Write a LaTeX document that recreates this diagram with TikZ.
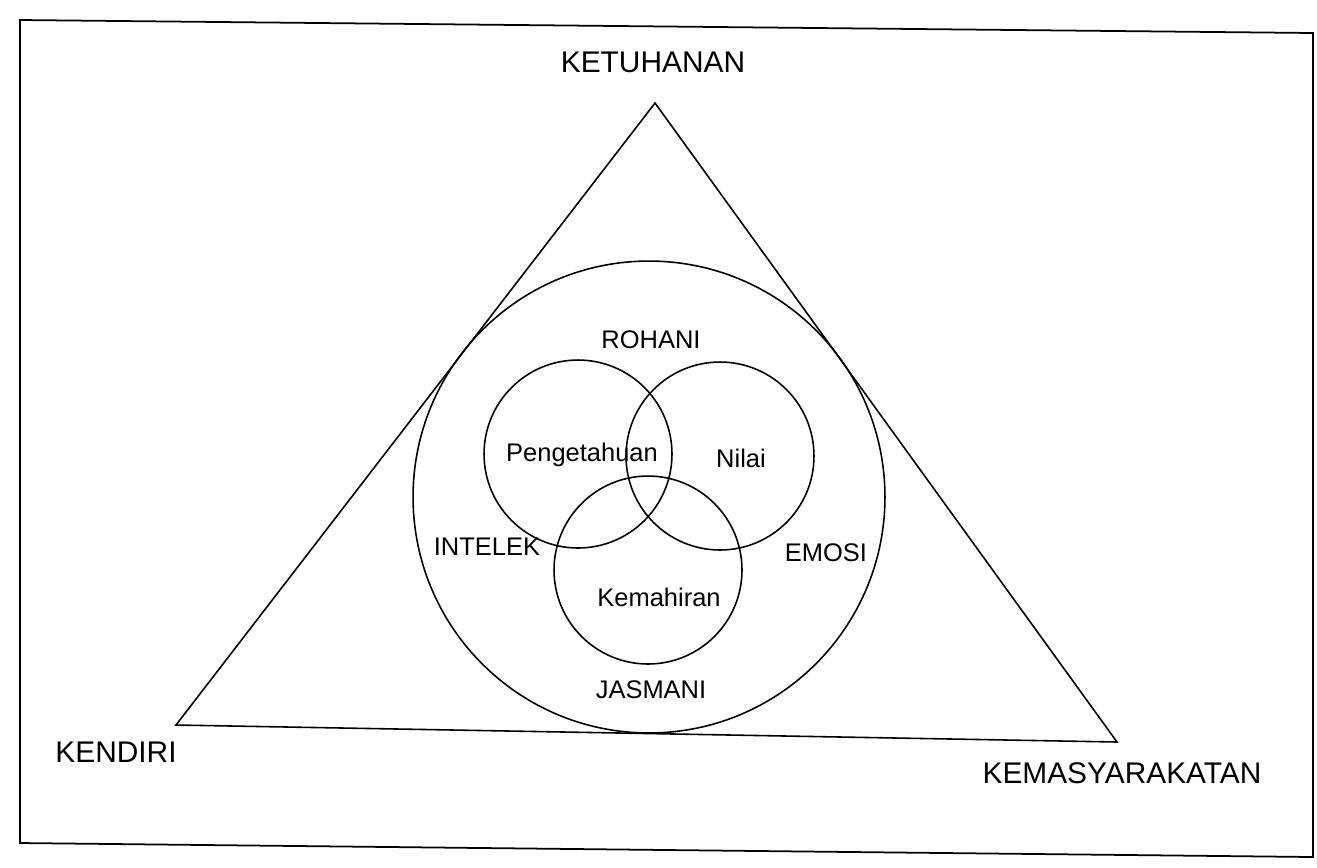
\documentclass[tikz,border=0pt]{standalone}
\usepackage{fontspec}
\setmainfont{Liberation Sans}
\usetikzlibrary{calc}

\begin{document}
\begin{tikzpicture}[x=0.02cm,y=-0.02cm,
    outer/.style={font=\fontsize{17}{20}\selectfont},
    inner/.style={font=\fontsize{14.5}{17}\selectfont},
    ring/.style={line width=0.9pt}]
      \useasboundingbox (0,0) rectangle (1317,867);

      % frame
      \draw[line width=1pt] (20,20) -- (1313,33) -- (1313,857) -- (20,843) -- cycle;

      % triangle
      \coordinate (top) at (655,103);
      \coordinate (left) at (176,725);
      \coordinate (right) at (1117,742);
      \draw[ring] (top) -- (left) -- (right) -- cycle;

      % big circle and the three small ones
      \coordinate (o) at (649,497);
      \draw[ring] (o) circle[radius=4.72cm];

      \coordinate (p) at (578,454);
      \coordinate (n) at (720,456);
      \coordinate (k) at (648,570);
      \foreach \c in {p,n,k}
        \draw[ring] (\c) circle[radius=1.88cm];

      \node[outer] (ketuhanan) at (653,62) {KETUHANAN};
      \node[outer] (kendiri) at (116,752) {KENDIRI};
      \node[outer] (kemasyarakatan) at (1122,773) {KEMASYARAKATAN};

      \node[inner] (rohani) at (651,340) {ROHANI};
      \node[inner] (intelek) at (487,547) {INTELEK};
      \node[inner] (emosi) at (826,553) {EMOSI};
      \node[inner] (jasmani) at (651,690) {JASMANI};

      \node[inner] (pengetahuan) at (582,455) {Pengetahuan};
      \node[inner] (nilai) at (741,458) {Nilai};
      \node[inner] (kemahiran) at (659,597) {Kemahiran};
\end{tikzpicture}
\end{document}
